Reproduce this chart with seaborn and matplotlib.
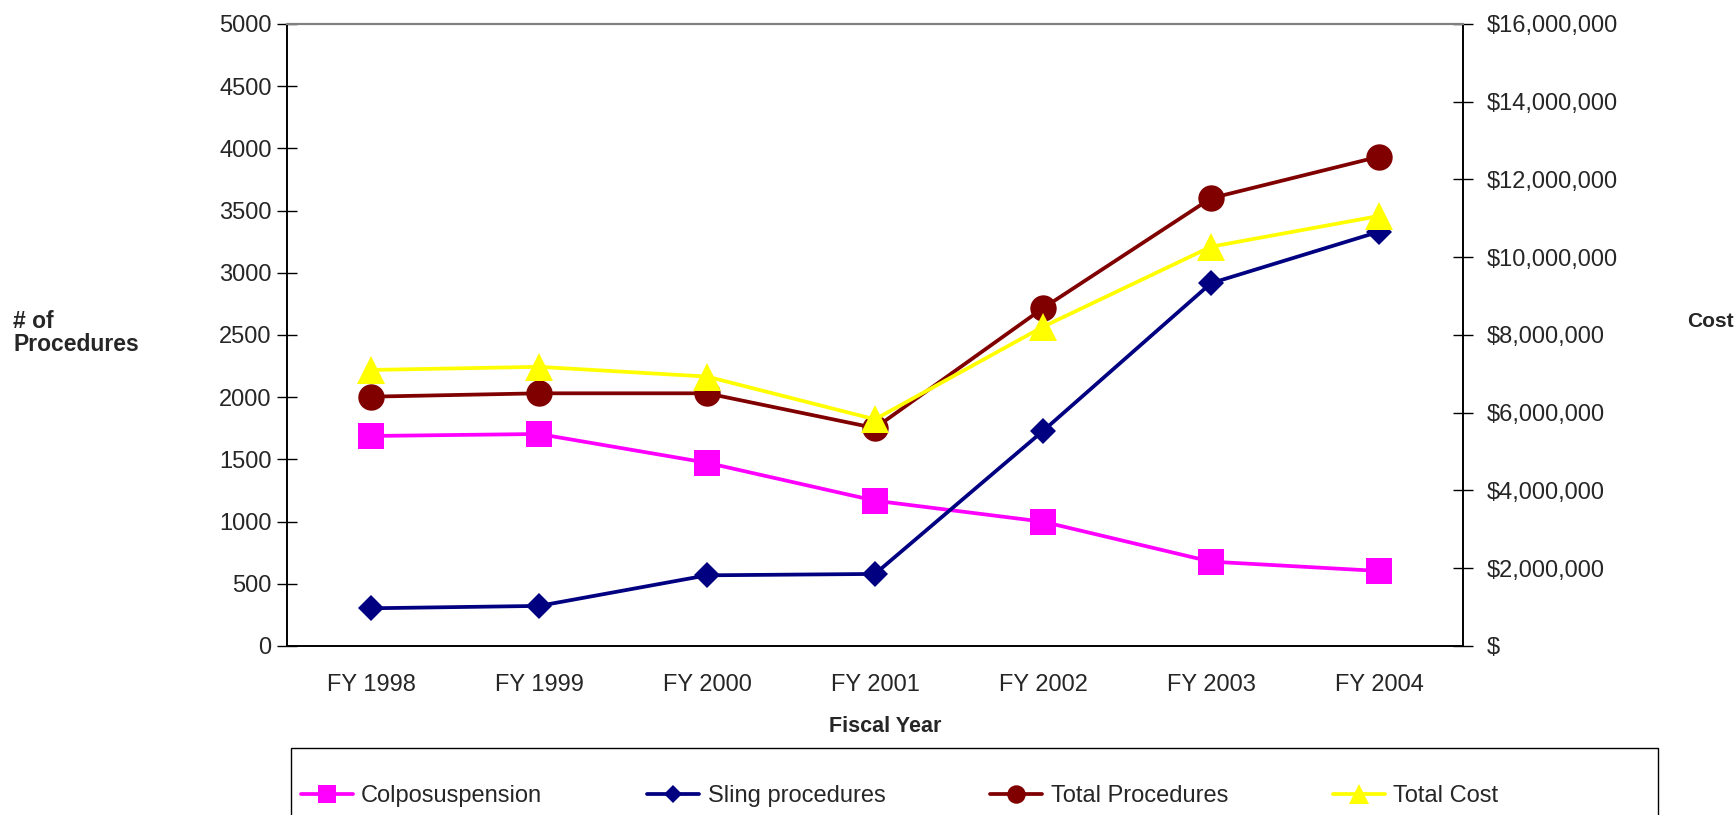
import numpy as np
import pandas as pd
import seaborn as sns
import matplotlib.pyplot as plt
from matplotlib.patches import Rectangle
from matplotlib.ticker import FuncFormatter, FixedLocator

# data
years = ["FY 1998", "FY 1999", "FY 2000", "FY 2001", "FY 2002", "FY 2003", "FY 2004"]
colpo = [1688, 1704, 1473, 1168, 999, 678, 603]
sling = [303, 322, 568, 579, 1728, 2916, 3330]
total_proc = [2004, 2031, 2031, 1752, 2715, 3599, 3933]
total_cost = [7100000, 7180000, 6930000, 5830000, 8210000, 10270000, 11060000]

sns.set_style("white")
plt.rcParams["font.family"] = ["Liberation Sans", "DejaVu Sans"]

df = pd.DataFrame({"year": years, "colpo": colpo, "sling": sling,
                   "total": total_proc, "cost": total_cost})

fig = plt.figure(figsize=(17.35, 8.15), dpi=100)
ax = fig.add_axes([0.1654, 0.2074, 0.6778, 0.7632])
ax2 = ax.twinx()

lw = 2.7
sns.lineplot(data=df, x="year", y="colpo", ax=ax, color="#FF00FF", marker="s",
             markersize=19, markeredgewidth=0, linewidth=lw, sort=False,
             label="Colposuspension", legend=False)
sns.lineplot(data=df, x="year", y="sling", ax=ax, color="#000080", marker="D",
             markersize=13.5, markeredgewidth=0, linewidth=lw, sort=False,
             label="Sling procedures", legend=False)
sns.lineplot(data=df, x="year", y="total", ax=ax, color="#800000", marker="o",
             markersize=19, markeredgewidth=0, linewidth=lw, sort=False,
             label="Total Procedures", legend=False)
sns.lineplot(data=df, x="year", y="cost", ax=ax2, color="#FFFF00", marker="^",
             markersize=20, markeredgewidth=0, linewidth=lw, sort=False,
             label="Total Cost", legend=False)

ax.set_xlim(-0.5, len(years) - 0.5)
ax.set_ylim(0, 5000)
ax2.set_ylim(0, 16000000)
ax.set_yticks(np.arange(0, 5001, 500))
ax2.set_yticks(np.arange(0, 16000001, 2000000))
ax2.yaxis.set_major_formatter(FuncFormatter(lambda v, p: "$" if v == 0 else f"${v:,.0f}"))

# category labels at centres, ticks on the boundaries
ax.set_xticks(range(len(years)))
ax.set_xticklabels(years)
ax.xaxis.set_minor_locator(FixedLocator(np.arange(-0.5, len(years), 1.0)))
ax.tick_params(axis="x", which="major", length=0, pad=20, labelsize=17)
ax.tick_params(axis="x", which="minor", direction="inout", length=14, width=1, color="black")
ax.tick_params(axis="y", direction="inout", length=14, width=1, color="black", pad=4, labelsize=17)
ax2.tick_params(axis="y", direction="inout", length=14, width=1, color="black", pad=10, labelsize=17)
ax.grid(False)
ax2.grid(False)

for a in (ax, ax2):
    for s in ("left", "right", "bottom"):
        a.spines[s].set_color("black")
        a.spines[s].set_linewidth(1.2)
    a.spines["top"].set_color("#808080")
    a.spines["top"].set_linewidth(1.5)

ax.set_xlabel("")
ax.set_ylabel("")
ax2.set_ylabel("")

fig.text(0.51, 0.109, "Fiscal Year", ha="center", va="center", fontsize=15.5, fontweight="bold")
fig.text(0.0075, 0.592, "# of\nProcedures", ha="left", va="center", fontsize=16.5,
         fontweight="bold", linespacing=1.0)
fig.text(0.9722, 0.606, "Cost", ha="left", va="center", fontsize=15, fontweight="bold")

# legend box (cut off at the bottom edge like the original)
fig.patches.append(Rectangle((0.1677, -0.1), 0.7877, 0.1828, transform=fig.transFigure,
                             fill=False, edgecolor="black", linewidth=1.0))

handles = ax.get_lines()[:3] + ax2.get_lines()[:1]
labels = ["Colposuspension", "Sling procedures", "Total Procedures", "Total Cost"]
leg = fig.legend(handles, labels, loc="upper left", bbox_to_anchor=(0.1735, 0.037),
                 borderaxespad=0, borderpad=0, ncol=4, frameon=False,
                 fontsize=17, handlelength=2.2, handletextpad=0.35,
                 columnspacing=4.45, markerscale=0.7)

fig.savefig("out.png", dpi=100)
